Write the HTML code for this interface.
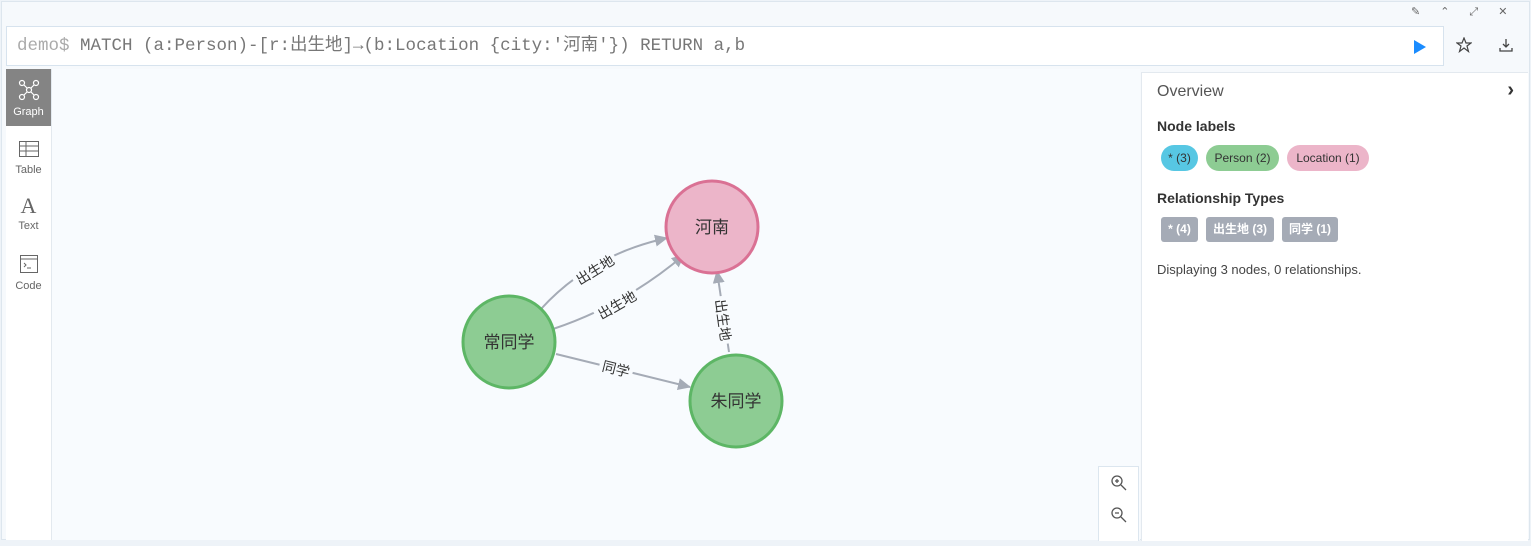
<!DOCTYPE html>
<html><head><meta charset="utf-8"><style>
body{margin:0;width:1531px;height:546px;overflow:hidden;background:#eef3f8;font-family:"Liberation Sans","Noto Sans CJK SC",sans-serif;position:relative}
.frame{position:absolute;left:1px;top:1px;width:1529px;height:539px;background:#f6f9fc;border:1px solid #dde6ee;box-sizing:border-box}
.q{position:absolute;left:6px;top:26px;width:1438px;height:40px;background:#fff;border:1px solid #d7e3ee;box-sizing:border-box;font-family:"Liberation Mono","Noto Sans CJK SC",monospace;font-size:17.5px;line-height:38px;padding-left:10px;color:#777}
.side{position:absolute;left:6px;top:69px;width:45px;height:471px;background:#fff;border-right:1px solid #e3e9ef}
.si{position:absolute;left:0;width:45px;text-align:center;font-size:11px;color:#666}
.graph{position:absolute;left:52px;top:69px;width:1088px;height:471px;background:#f8fbfe}
.panel{position:absolute;left:1141px;top:72px;width:386px;height:468px;background:#fff;border-left:1px solid #e3e9ef;border-top:1px solid #e3e9ef}
.pill{position:absolute;top:72px;height:26px;border-radius:13px;font-size:12px;line-height:26px;text-align:center;color:#333}
.rt{position:absolute;top:144px;height:25px;border-radius:3px;background:#a5abb6;color:#fff;font-size:12px;font-weight:bold;line-height:25px;text-align:center}
</style></head><body>
<div class="frame"></div>
<div style="position:absolute;left:1411px;top:5px;font-size:11px;color:#666;letter-spacing:20px">✎⌃⤢✕</div>
<div class="q"><span style="color:#aaa">demo$</span> MATCH (a:Person)-[r:出生地]→(b:Location {city:'河南'}) RETURN a,b
<svg style="position:absolute;left:1405px;top:12px" width="16" height="16"><polygon points="2,1 14,8 2,15" fill="#1a8cff"/></svg></div>
<svg style="position:absolute;left:1456px;top:37px" width="16" height="16"><polygon points="8,1 10,6 15,6 11,9 12.5,14.5 8,11 3.5,14.5 5,9 1,6 6,6" fill="none" stroke="#444" stroke-width="1.2"/></svg>
<svg style="position:absolute;left:1498px;top:37px" width="16" height="16"><path d="M8 2v8M5 7l3 3 3-3M2 11v3h12v-3" fill="none" stroke="#444" stroke-width="1.3"/></svg>
<div class="side">
<div style="position:absolute;left:0;top:0;width:45px;height:57px;background:#848484"></div>
<svg style="position:absolute;left:12px;top:10px" width="22" height="22" stroke="#fff" fill="none" stroke-width="1.2"><circle cx="4" cy="4" r="2.5"/><circle cx="18" cy="4" r="2.5"/><circle cx="11" cy="11" r="2.5"/><circle cx="4" cy="18" r="2.5"/><circle cx="18" cy="18" r="2.5"/><path d="M6 6l3 3M16 6l-3 3M6 16l3-3M16 16l-3-3"/></svg>
<div class="si" style="top:37px;color:#fff">Graph</div>
<svg style="position:absolute;left:13px;top:72px" width="20" height="16" stroke="#666" fill="none"><rect x="0.5" y="0.5" width="19" height="15"/><path d="M0 5h20M0 10h20M7 0v16"/></svg>
<div class="si" style="top:95px">Table</div>
<div class="si" style="top:124px;font-size:22px;font-family:'Liberation Serif',serif">A</div>
<div class="si" style="top:151px">Text</div>
<svg style="position:absolute;left:14px;top:186px" width="18" height="18" stroke="#666" fill="none"><rect x="0.5" y="0.5" width="17" height="17"/><path d="M0 4h18M4 8l2 2-2 2M7 13h4"/></svg>
<div class="si" style="top:211px">Code</div>
</div>
<div class="graph"></div>
<svg style="position:absolute;left:0;top:0" width="1140" height="540" font-family="Liberation Sans,Noto Sans CJK SC,sans-serif">
<defs><marker id="a" markerWidth="13" markerHeight="12" refX="12" refY="6" orient="auto" markerUnits="userSpaceOnUse"><path d="M0,0L13,6L0,12z" fill="#a5abb6"/></marker></defs>
<g stroke="#a5abb6" stroke-width="2" fill="none">
<path d="M541,309 Q590,255 667,238" marker-end="url(#a)"/>
<path d="M553,329 Q625,305 684,255" marker-end="url(#a)"/>
<path d="M729,352 L717,271" marker-end="url(#a)"/>
<path d="M556,354 L690,387" marker-end="url(#a)"/>
</g>
<g font-size="14" fill="#333" text-anchor="middle">
<g transform="translate(595,270) rotate(-32)"><rect x="-24" y="-9" width="48" height="18" fill="#f8fbfe"/><text y="5">出生地</text></g>
<g transform="translate(617,305) rotate(-30)"><rect x="-24" y="-9" width="48" height="18" fill="#f8fbfe"/><text y="5">出生地</text></g>
<g transform="translate(723,320) rotate(82)"><rect x="-24" y="-9" width="48" height="18" fill="#f8fbfe"/><text y="5">出生地</text></g>
<g transform="translate(616,369) rotate(14)"><rect x="-17" y="-9" width="34" height="18" fill="#f8fbfe"/><text y="5">同学</text></g>
</g>
<g stroke-width="3">
<circle cx="712" cy="227" r="46" fill="#ecb5c9" stroke="#da7194"/>
<circle cx="509" cy="342" r="46" fill="#8dcc93" stroke="#5db665"/>
<circle cx="736" cy="401" r="46" fill="#8dcc93" stroke="#5db665"/>
</g>
<g font-size="17" fill="#333" text-anchor="middle">
<text x="712" y="233">河南</text><text x="509" y="348">常同学</text><text x="736" y="407">朱同学</text>
</g>
</svg>
<div style="position:absolute;left:1098px;top:466px;width:39px;height:74px;background:#fff;border:1px solid #dce6ef;border-bottom:none"></div>
<svg style="position:absolute;left:1110px;top:474px" width="18" height="50" stroke="#555" fill="none" stroke-width="1.3"><circle cx="7" cy="7" r="5"/><path d="M11 11l5 5M5 7h4M7 5v4"/><circle cx="7" cy="39" r="5"/><path d="M11 43l5 5M5 39h4"/></svg>
<div class="panel">
<div style="position:absolute;left:15px;top:10px;font-size:16px;color:#555">Overview</div>
<div style="position:absolute;right:14px;top:6px;font-size:20px;color:#333;font-weight:bold">›</div>
<div style="position:absolute;left:15px;top:45px;font-size:14px;font-weight:bold;color:#333">Node labels</div>
<div class="pill" style="left:19px;width:37px;background:#57c7e3">* (3)</div>
<div class="pill" style="left:64px;width:73px;background:#8dcc93">Person (2)</div>
<div class="pill" style="left:145px;width:82px;background:#ecb5c9">Location (1)</div>
<div style="position:absolute;left:15px;top:117px;font-size:14px;font-weight:bold;color:#333">Relationship Types</div>
<div class="rt" style="left:19px;width:37px">* (4)</div>
<div class="rt" style="left:64px;width:68px">出生地 (3)</div>
<div class="rt" style="left:140px;width:56px">同学 (1)</div>
<div style="position:absolute;left:15px;top:189px;font-size:13px;color:#444">Displaying 3 nodes, 0 relationships.</div>
</div>
</body></html>
